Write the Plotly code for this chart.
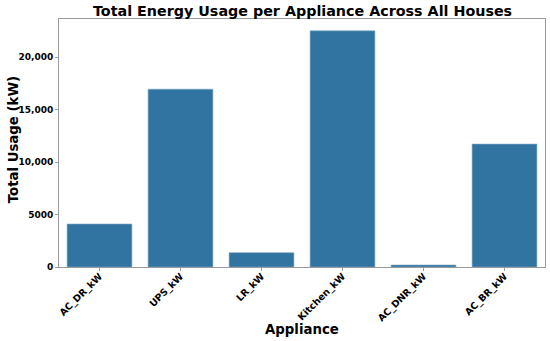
import plotly.graph_objects as go

appliances = ["AC_DR_kW", "UPS_kW", "LR_kW", "Kitchen_kW", "AC_DNR_kW", "AC_BR_kW"]
usage_kw = [4095, 16950, 1370, 22515, 190, 11715]
y_tick_vals = [0, 5000, 10000, 15000, 20000]
y_tick_text = ["0", "5000", "10,000", "15,000", "20,000"]

FONT = "DejaVu Sans"
BAR_COLOR = "#3274a1"
SPINE = "#9a9a9a"

FIG_W, FIG_H = 550, 341
M_L, M_R, M_T, M_B = 59, 5, 19, 74
PLOT_W = FIG_W - M_L - M_R
PLOT_H = FIG_H - M_T - M_B

fig = go.Figure(go.Bar(
    x=appliances, y=usage_kw,
    marker=dict(color=BAR_COLOR, line=dict(color="#7fa7c6", width=0.6)),
    width=0.8,
))

fig.update_layout(
    width=FIG_W, height=FIG_H,
    margin=dict(l=M_L, r=M_R, t=M_T, b=M_B, autoexpand=False),
    plot_bgcolor="white", paper_bgcolor="white",
    showlegend=False,
    font=dict(family=FONT, color="black"),
    annotations=[
        dict(text="<b>Total Energy Usage per Appliance Across All Houses</b>",
             xref="paper", yref="paper", x=0.5, y=1 + 8 / PLOT_H,
             xanchor="center", yanchor="middle", showarrow=False,
             font=dict(family=FONT, size=14.3, color="black")),
        dict(text="<b>Appliance</b>",
             xref="paper", yref="paper", x=0.5, y=-62 / PLOT_H,
             xanchor="center", yanchor="middle", showarrow=False,
             font=dict(family=FONT, size=13.3, color="black")),
        dict(text="<b>Total Usage (kW)</b>", textangle=-90,
             xref="paper", yref="paper", x=-46 / PLOT_W, y=(266.7 - 140) / PLOT_H,
             xanchor="center", yanchor="middle", showarrow=False,
             font=dict(family=FONT, size=13.3, color="black")),
    ],
)

fig.update_xaxes(
    range=[-0.5, 5.5], automargin=False,
    tickangle=-45,
    tickfont=dict(family=FONT, size=9.5, color="black", weight="bold"),
    ticks="outside", ticklen=3, tickcolor=SPINE, tickwidth=1,
    ticklabelstandoff=-4,
    showline=True, linecolor=SPINE, linewidth=1, mirror=True,
    showgrid=False,
)
fig.update_yaxes(
    range=[0, 23640], automargin=False,
    tickvals=y_tick_vals, ticktext=y_tick_text,
    tickfont=dict(family=FONT, size=9, color="black", weight="bold"),
    ticks="outside", ticklen=3, tickcolor=SPINE, tickwidth=1,
    showline=True, linecolor=SPINE, linewidth=1, mirror=True,
    showgrid=False, zeroline=False,
)

fig.write_html("out.html", config={"displayModeBar": False},
               post_script="document.body.style.margin='0';")
